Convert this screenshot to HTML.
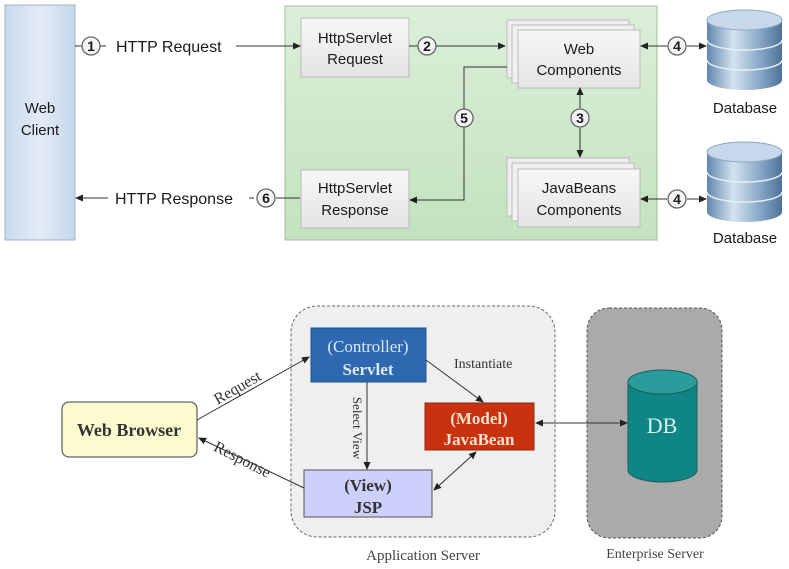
<!DOCTYPE html>
<html><head><meta charset="utf-8"><style>
html,body{margin:0;padding:0;background:#fff;}
svg{display:block;}
.s{font-family:"Liberation Sans",sans-serif;font-size:15px;fill:#1a1a1a;}
.r{font-family:"Liberation Serif",serif;}
</style></head><body>
<svg width="789" height="569" viewBox="0 0 789 569" xmlns="http://www.w3.org/2000/svg">
<defs>
<linearGradient id="wc" x1="0" y1="0" x2="1" y2="0"><stop offset="0" stop-color="#c9d9ee"/><stop offset="0.5" stop-color="#e3ecf7"/><stop offset="1" stop-color="#c4d6ec"/></linearGradient>
<linearGradient id="gr" x1="0" y1="0" x2="0" y2="1"><stop offset="0" stop-color="#dcefd9"/><stop offset="1" stop-color="#c2e2be"/></linearGradient>
<linearGradient id="bx" x1="0" y1="0" x2="0" y2="1"><stop offset="0" stop-color="#f7f7f7"/><stop offset="1" stop-color="#e4e4e4"/></linearGradient>
<linearGradient id="db" x1="0" y1="0" x2="1" y2="0"><stop offset="0" stop-color="#5f86ad"/><stop offset="0.35" stop-color="#d4e3f0"/><stop offset="0.7" stop-color="#8aa9c8"/><stop offset="1" stop-color="#4d7198"/></linearGradient>
<marker id="a" markerWidth="8" markerHeight="8" refX="7" refY="4" orient="auto" markerUnits="userSpaceOnUse"><path d="M0,0.5 L8,4 L0,7.5z" fill="#222"/></marker>
<marker id="as" markerWidth="8" markerHeight="8" refX="1" refY="4" orient="auto" markerUnits="userSpaceOnUse"><path d="M8,0.5 L0,4 L8,7.5z" fill="#222"/></marker>
</defs>

<rect x="5" y="5" width="70" height="235" fill="url(#wc)" stroke="#9fb3cc"/>
<text class="s" x="40" y="113" text-anchor="middle">Web</text>
<text class="s" x="40" y="135" text-anchor="middle">Client</text>

<rect x="285" y="6" width="372" height="234" fill="url(#gr)" stroke="#9cbf98"/>

<rect x="301" y="18" width="108" height="59" fill="url(#bx)" stroke="#bbb"/>
<text class="s" x="355" y="43" text-anchor="middle">HttpServlet</text>
<text class="s" x="355" y="64" text-anchor="middle">Request</text>
<rect x="301" y="170" width="108" height="58" fill="url(#bx)" stroke="#bbb"/>
<text class="s" x="355" y="193" text-anchor="middle">HttpServlet</text>
<text class="s" x="355" y="215" text-anchor="middle">Response</text>

<rect x="507" y="20" width="122" height="58" fill="#eee" stroke="#bbb"/>
<rect x="512" y="25" width="122" height="58" fill="#f0f0f0" stroke="#bbb"/>
<rect x="518" y="30" width="122" height="58" fill="url(#bx)" stroke="#bbb"/>
<text class="s" x="579" y="54" text-anchor="middle">Web</text>
<text class="s" x="579" y="75" text-anchor="middle">Components</text>

<rect x="507" y="158" width="122" height="58" fill="#eee" stroke="#bbb"/>
<rect x="512" y="163" width="122" height="58" fill="#f0f0f0" stroke="#bbb"/>
<rect x="518" y="169" width="122" height="58" fill="url(#bx)" stroke="#bbb"/>
<text class="s" x="579" y="193" text-anchor="middle">JavaBeans</text>
<text class="s" x="579" y="215" text-anchor="middle">Components</text>

<line x1="75" y1="46" x2="82" y2="46" stroke="#333"/>
<line x1="100" y1="46" x2="106" y2="46" stroke="#333"/>
<line x1="236" y1="46" x2="300" y2="46" stroke="#333" marker-end="url(#a)"/>
<text class="s" x="116" y="52" style="font-size:16px">HTTP Request</text>
<line x1="409" y1="46" x2="418" y2="46" stroke="#333"/>
<line x1="436" y1="46" x2="505" y2="46" stroke="#333" marker-end="url(#a)"/>
<polyline points="507,67 464,67 464,200 410,200" fill="none" stroke="#333" marker-end="url(#a)"/>
<line x1="300" y1="198" x2="276" y2="198" stroke="#333"/>
<line x1="249" y1="198" x2="254" y2="198" stroke="#333"/>
<line x1="108" y1="198" x2="76" y2="198" stroke="#333" marker-end="url(#a)"/>
<text class="s" x="115" y="204" style="font-size:16px">HTTP Response</text>
<line x1="580" y1="88" x2="580" y2="108" stroke="#333" marker-start="url(#as)"/>
<line x1="580" y1="128" x2="580" y2="157" stroke="#333" marker-end="url(#a)"/>
<line x1="641" y1="46" x2="667" y2="46" stroke="#333" marker-start="url(#as)"/>
<line x1="687" y1="46" x2="706" y2="46" stroke="#333" marker-end="url(#a)"/>
<line x1="641" y1="199" x2="667" y2="199" stroke="#333" marker-start="url(#as)"/>
<line x1="687" y1="199" x2="706" y2="199" stroke="#333" marker-end="url(#a)"/>

<g fill="#f4f4f4" stroke="#666" stroke-width="1.3">
<circle cx="91" cy="46" r="9"/><circle cx="427" cy="46" r="9"/><circle cx="580" cy="118" r="9"/>
<circle cx="464" cy="118" r="9"/><circle cx="677" cy="46" r="9"/><circle cx="677" cy="199" r="9"/><circle cx="266" cy="198" r="9"/>
</g>
<g class="s" text-anchor="middle" style="font-size:14px;font-weight:bold">
<text x="91" y="51">1</text><text x="427" y="51">2</text><text x="580" y="123">3</text>
<text x="464" y="123">5</text><text x="677" y="51">4</text><text x="677" y="204">4</text><text x="266" y="203">6</text>
</g>

<g>
<path d="M707,20 L707,80 A37.5,10 0 0 0 782,80 L782,20z" fill="url(#db)"/>
<path d="M707,40 A37.5,10 0 0 0 782,40 M707,60 A37.5,10 0 0 0 782,60" fill="none" stroke="#e6eef6" stroke-width="1.5"/>
<ellipse cx="744.5" cy="20" rx="37.5" ry="10" fill="#c6d8ea" stroke="#8aa6c3"/>
<text class="s" x="745" y="113" text-anchor="middle">Database</text>
</g>
<g>
<path d="M707,152 L707,212 A37.5,10 0 0 0 782,212 L782,152z" fill="url(#db)"/>
<path d="M707,172 A37.5,10 0 0 0 782,172 M707,192 A37.5,10 0 0 0 782,192" fill="none" stroke="#e6eef6" stroke-width="1.5"/>
<ellipse cx="744.5" cy="152" rx="37.5" ry="10" fill="#c6d8ea" stroke="#8aa6c3"/>
<text class="s" x="745" y="243" text-anchor="middle">Database</text>
</g>

<rect x="291" y="306" width="264" height="231" rx="26" fill="#efefef" stroke="#666" stroke-dasharray="3,2"/>
<text class="r" x="423" y="560" text-anchor="middle" font-size="15" fill="#444">Application Server</text>
<rect x="587" y="308" width="135" height="230" rx="22" fill="#aaa" stroke="#555" stroke-dasharray="3,2"/>
<text class="r" x="655" y="558" text-anchor="middle" font-size="14" fill="#444">Enterprise Server</text>

<rect x="62" y="402" width="135" height="55" rx="7" fill="#fbfbcf" stroke="#666" stroke-width="1.3"/>
<text class="r" x="129" y="436" text-anchor="middle" font-size="18" font-weight="bold" fill="#333">Web Browser</text>

<rect x="311" y="328" width="115" height="54" fill="#2e68b0" stroke="#234f88"/>
<text class="r" x="368" y="352" text-anchor="middle" font-size="17" fill="#dde8f6">(Controller)</text>
<text class="r" x="368" y="375" text-anchor="middle" font-size="17" font-weight="bold" fill="#dde8f6">Servlet</text>

<rect x="425" y="403" width="109" height="47" fill="#c8320e" stroke="#8a2a12"/>
<text class="r" x="479" y="424" text-anchor="middle" font-size="17" font-weight="bold" fill="#f8e0d0">(Model)</text>
<text class="r" x="479" y="445" text-anchor="middle" font-size="17" font-weight="bold" fill="#f8e0d0">JavaBean</text>

<rect x="304" y="470" width="128" height="47" fill="#cdd0fb" stroke="#555"/>
<text class="r" x="368" y="491" text-anchor="middle" font-size="17" font-weight="bold" fill="#333">(View)</text>
<text class="r" x="368" y="513" text-anchor="middle" font-size="17" font-weight="bold" fill="#333">JSP</text>

<path d="M628,382 L628,470 A34.5,12 0 0 0 697,470 L697,382z" fill="#0f8585" stroke="#1c5f5f"/>
<ellipse cx="662.5" cy="382" rx="34.5" ry="12" fill="#2a9c9c" stroke="#1c5f5f"/>
<text class="r" x="662" y="433" text-anchor="middle" font-size="22" fill="#d5f0f0">DB</text>

<line x1="197" y1="420" x2="309" y2="357" stroke="#333" marker-end="url(#a)"/>
<text class="r" x="240" y="392" font-size="16" fill="#333" transform="rotate(-30 240 392)" text-anchor="middle">Request</text>
<line x1="304" y1="488" x2="199" y2="438" stroke="#333" marker-end="url(#a)"/>
<text class="r" x="240" y="464" font-size="16" fill="#333" transform="rotate(27 240 464)" text-anchor="middle">Response</text>
<line x1="367" y1="382" x2="367" y2="469" stroke="#333" marker-end="url(#a)"/>
<text class="r" x="353" y="428" font-size="13" fill="#333" transform="rotate(90 353 428)" text-anchor="middle">Select View</text>
<line x1="426" y1="360" x2="483" y2="402" stroke="#333" marker-end="url(#a)"/>
<text class="r" x="454" y="368" font-size="14" fill="#333">Instantiate</text>
<line x1="536" y1="423" x2="627" y2="423" stroke="#333" marker-start="url(#as)" marker-end="url(#a)"/>
<line x1="434" y1="490" x2="476" y2="452" stroke="#333" marker-start="url(#as)" marker-end="url(#a)"/>
</svg>
</body></html>
